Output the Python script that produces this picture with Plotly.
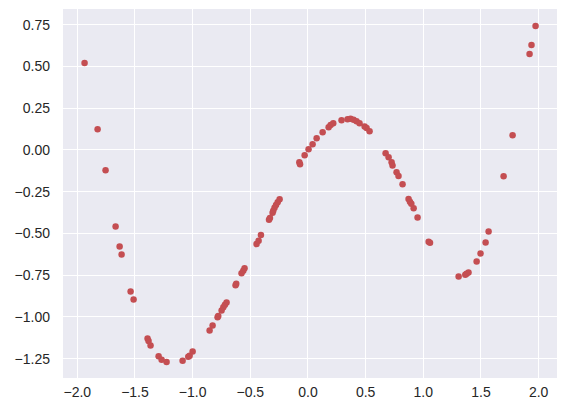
import plotly.graph_objects as go

x_vals = [-1.937, -1.824, -1.755, -1.668, -1.633, -1.616, -1.538, -1.512, -1.391, -1.382,
          -1.365, -1.295, -1.269, -1.226, -1.087, -1.038, -1.026, -1.000, -0.853, -0.827,
          -0.784, -0.778, -0.749, -0.734, -0.720, -0.706, -0.628, -0.622, -0.576, -0.561,
          -0.550, -0.446, -0.428, -0.408, -0.338, -0.330, -0.307, -0.301, -0.290, -0.277,
          -0.263, -0.246, -0.075, -0.069, -0.029, 0.005, 0.040, 0.075, 0.127, 0.179,
          0.196, 0.219, 0.291, 0.343, 0.369, 0.395, 0.421, 0.447, 0.491, 0.508,
          0.534, 0.673, 0.699, 0.725, 0.733, 0.768, 0.785, 0.820, 0.872, 0.884,
          0.896, 0.916, 0.950, 1.046, 1.058, 1.306, 1.364, 1.375, 1.392, 1.462,
          1.496, 1.540, 1.566, 1.696, 1.774, 1.921, 1.938, 1.973]
y_vals = [0.520, 0.124, -0.122, -0.458, -0.578, -0.626, -0.848, -0.896, -1.130, -1.144,
          -1.172, -1.236, -1.256, -1.270, -1.262, -1.238, -1.232, -1.208, -1.082, -1.052,
          -1.002, -0.994, -0.962, -0.942, -0.928, -0.914, -0.810, -0.802, -0.738, -0.724,
          -0.708, -0.564, -0.544, -0.510, -0.418, -0.408, -0.376, -0.364, -0.346, -0.330,
          -0.314, -0.296, -0.074, -0.086, -0.032, 0.004, 0.034, 0.070, 0.106, 0.136,
          0.150, 0.160, 0.178, 0.184, 0.186, 0.180, 0.172, 0.160, 0.140, 0.132,
          0.112, -0.020, -0.044, -0.074, -0.094, -0.134, -0.156, -0.206, -0.294, -0.310,
          -0.322, -0.350, -0.404, -0.550, -0.556, -0.758, -0.748, -0.742, -0.734, -0.668,
          -0.620, -0.554, -0.488, -0.158, 0.088, 0.574, 0.628, 0.742]

x_ticks = [-2.0, -1.5, -1.0, -0.5, 0.0, 0.5, 1.0, 1.5, 2.0]
y_ticks = [0.75, 0.5, 0.25, 0.0, -0.25, -0.5, -0.75, -1.0, -1.25]

fig = go.Figure(go.Scatter(
    x=x_vals, y=y_vals, mode="markers",
    marker=dict(color="#C44E52", size=6.5, line=dict(width=0)),
))

# page body has an 8px default margin, so the figure is shifted by 8px
fig.update_layout(
    width=559, height=408,
    margin=dict(l=55, r=10, t=1, b=38),
    paper_bgcolor="white", plot_bgcolor="#EAEAF2",
    font=dict(family="Liberation Sans, Arial, sans-serif", size=14, color="#262626"),
    showlegend=False,
)
fig.update_xaxes(range=[-2.124, 2.159], tickvals=x_ticks, tickformat=".1f",
                 showgrid=True, gridcolor="white", gridwidth=1, zeroline=False,
                 showline=False, ticks="", ticklabelstandoff=4)
fig.update_yaxes(range=[-1.366, 0.844], tickvals=y_ticks, tickformat=".2f",
                 showgrid=True, gridcolor="white", gridwidth=1, zeroline=False,
                 showline=False, ticks="", ticklabelstandoff=12)

fig.write_html("out.html")
